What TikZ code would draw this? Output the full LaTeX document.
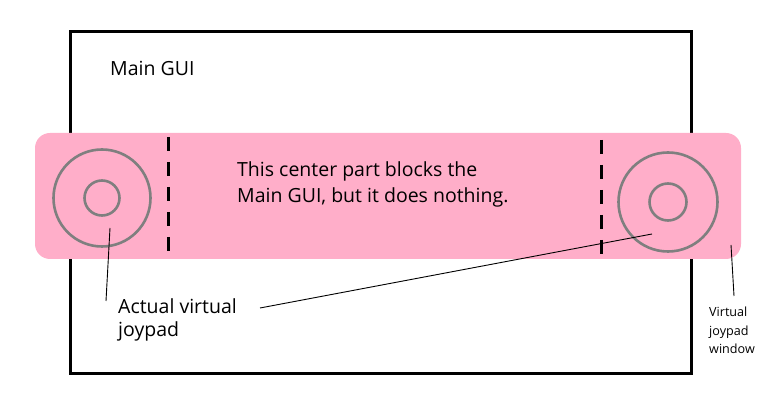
\documentclass[tikz,border=0pt]{standalone}
\usepackage{fontspec}
\setmainfont{Open Sans}
\definecolor{rose}{HTML}{FFAEC9}
\definecolor{paintgray}{HTML}{7F7F7F}
\begin{document}
\begin{tikzpicture}[x=1pt,y=-1pt,
  frame/.style={draw=black,line width=3pt},
  band/.style={fill=rose,rounded corners=15pt},
  ring/.style={draw=paintgray,line width=2.6pt},
  divider/.style={draw=black,line width=3pt,dash pattern=on 14pt off 11pt},
  leader/.style={draw=black,line width=0.9pt},
  bigtext/.style={font=\fontsize{19.5}{26}\selectfont,align=left,anchor=base west,inner sep=0pt},
  midtext/.style={font=\fontsize{19.5}{23.5}\selectfont,align=left,anchor=base west,inner sep=0pt},
  smalltext/.style={font=\fontsize{12.6}{18.5}\selectfont,align=left,anchor=base west,inner sep=0pt}]
\useasboundingbox (0,0) rectangle (768,411);
\draw[frame] (70,32) rectangle (691,373);
\fill[band] (35,133) rectangle (741,259);
\node[ring,circle,minimum size=97pt,inner sep=0pt] (lo) at (102,198) {};
\node[ring,circle,minimum size=35pt,inner sep=0pt] (li) at (102,198) {};
\node[ring,circle,minimum size=99pt,inner sep=0pt] (ro) at (668,202) {};
\node[ring,circle,minimum size=37pt,inner sep=0pt] (ri) at (668,202) {};
\coordinate (d1a) at (168,137); \coordinate (d1b) at (168,254);
\coordinate (d2a) at (601,140); \coordinate (d2b) at (601,256);
\draw[divider] (d1a) -- (d1b);
\draw[divider] (d2a) -- (d2b);
\node[bigtext] (maingui) at (110,76) {Main GUI};
\node[bigtext] (center) at (237,203) {This center part blocks the\\Main GUI, but it does nothing.};
\node[midtext] (actual) at (118,337) {Actual virtual\\joypad};
\node[smalltext] (vjw) at (709,354) {Virtual\\joypad\\window};
\coordinate (p1) at (110,228); \coordinate (p1e) at (106,301);
\coordinate (p2) at (652,234); \coordinate (p2e) at (260,308);
\coordinate (p3) at (731,245); \coordinate (p3e) at (734,296);
\draw[leader] (p1) -- (p1e);
\draw[leader] (p2) -- (p2e);
\draw[leader] (p3) -- (p3e);
\end{tikzpicture}
\end{document}
